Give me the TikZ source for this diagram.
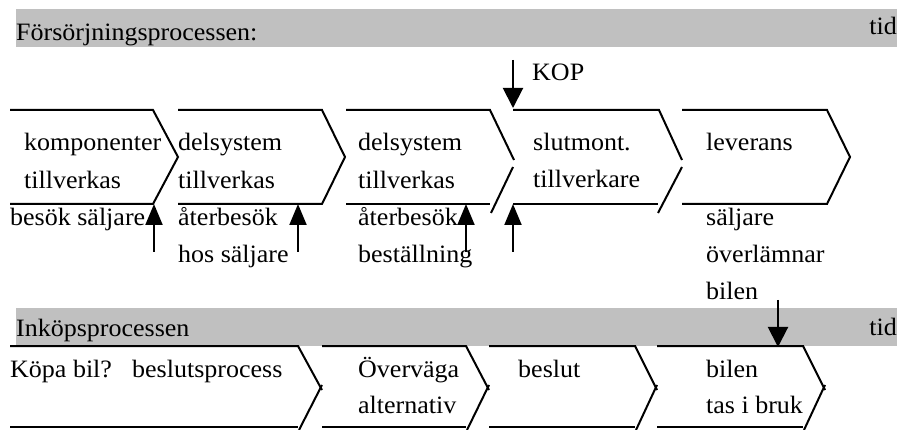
\documentclass[tikz,border=0pt]{standalone}
\usepackage{fontspec}
\setmainfont[FakeStretch=1.04]{Liberation Serif}
\usetikzlibrary{arrows.meta}
\definecolor{bandgray}{RGB}{192,192,192}
\begin{document}
\begin{tikzpicture}[x=1pt,y=-1pt,
  txt/.style={inner sep=0pt,anchor=base west,font=\fontsize{25}{30}\selectfont},
  rtxt/.style={txt,anchor=base east},
  chev/.style={line width=2pt,line join=miter},
  band/.style={fill=bandgray,draw=none},
  uparrow/.style={line width=2pt,-{Triangle[width=17pt,length=21pt]}},
  downarrow/.style={line width=2pt,-{Triangle[width=20pt,length=20pt]}}]
\useasboundingbox (0,0) rectangle (905,430);
% grey bands
\fill[band] (16,9) rectangle (897,47);
\fill[band] (16,308) rectangle (897,346);
\node[txt] (t1) at (16,41) {Försörjningsprocessen:};
\node[rtxt] (tid1) at (897,35) {tid};
\node[txt] (t2) at (16,337) {Inköpsprocessen};
\node[rtxt] (tid2) at (897,336) {tid};
% top row chevrons
\draw[chev] (10,110) -- (153,110) -- (178,157) -- (153,204) -- (10,204);
\draw[chev] (178,110) -- (322,110) -- (345,157) -- (322,204) -- (178,204);
\draw[chev] (346,204) -- (490,204);
\draw[chev] (346,110) -- (490,110) -- (514,160);
\draw[chev] (513,167) -- (491,213);
\draw[chev] (513,204) -- (658,204);
\draw[chev] (513,110) -- (659,110) -- (682,160);
\draw[chev] (682,167) -- (658,213);
\draw[chev] (682,110) -- (827,110) -- (850,157) -- (827,204) -- (682,204);
% bottom row chevrons
\draw[chev] (10,346) -- (298,346) -- (322,390);
\draw[chev] (322,385) -- (299,430);
\draw[chev] (10,427) -- (298,427);
\draw[chev] (322,346) -- (466,346) -- (489,390);
\draw[chev] (489,385) -- (467,430);
\draw[chev] (322,427) -- (466,427);
\draw[chev] (489,346) -- (635,346) -- (657,390);
\draw[chev] (657,385) -- (636,430);
\draw[chev] (489,427) -- (635,427);
\draw[chev] (657,346) -- (803,346) -- (825,390);
\draw[chev] (825,385) -- (804,430);
\draw[chev] (657,427) -- (803,427);
% texts top row
\node[txt] (a1) at (24,151) {komponenter};
\node[txt] (a2) at (24,189) {tillverkas};
\node[txt] (a3) at (10,226) {besök säljare};
\node[txt] (b1) at (178,151) {delsystem};
\node[txt] (b2) at (178,189) {tillverkas};
\node[txt] (b3) at (178,226) {återbesök};
\node[txt] (b4) at (178,263) {hos säljare};
\node[txt] (c1) at (358,151) {delsystem};
\node[txt] (c2) at (358,189) {tillverkas};
\node[txt] (c3) at (358,226) {återbesök};
\node[txt] (c4) at (358,263) {beställning};
\node[txt] (d1) at (533,151) {slutmont.};
\node[txt] (d2) at (533,188) {tillverkare};
\node[txt] (e1) at (706,151) {leverans};
\node[txt] (e2) at (706,226) {säljare};
\node[txt] (e3) at (706,263) {överlämnar};
\node[txt] (e4) at (706,300) {bilen};
\node[txt] (kop) at (532,81) {KOP};
% texts bottom row
\node[txt] (f1) at (10,377) {Köpa bil?};
\node[txt] (f2) at (132,377) {beslutsprocess};
\node[txt] (g1) at (358,377) {Överväga};
\node[txt] (g2) at (358,413) {alternativ};
\node[txt] (h1) at (518,377) {beslut};
\node[txt] (i1) at (706,377) {bilen};
\node[txt] (i2) at (706,413) {tas i bruk};
% arrows
\coordinate (u1s) at (154,252); \coordinate (u1e) at (154,204);
\coordinate (u2s) at (298,252); \coordinate (u2e) at (298,204);
\coordinate (u3s) at (466,252); \coordinate (u3e) at (466,204);
\coordinate (u4s) at (513,252); \coordinate (u4e) at (513,204);
\coordinate (ks) at (513,60); \coordinate (ke) at (513,108);
\coordinate (bs) at (778,300); \coordinate (be) at (778,347);
\draw[uparrow] (u1s) -- (u1e);
\draw[uparrow] (u2s) -- (u2e);
\draw[uparrow] (u3s) -- (u3e);
\draw[uparrow] (u4s) -- (u4e);
\draw[downarrow] (ks) -- (ke);
\draw[downarrow] (bs) -- (be);
\end{tikzpicture}
\end{document}
